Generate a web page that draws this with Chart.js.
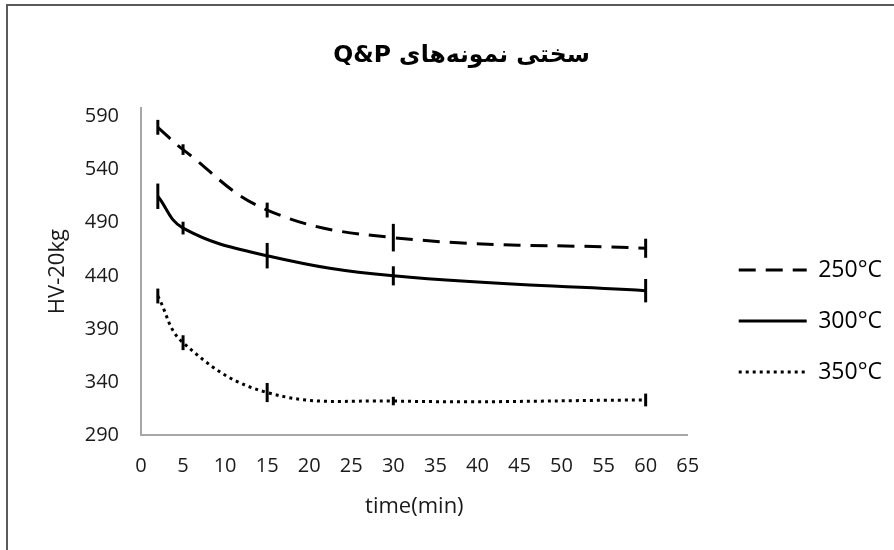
<!DOCTYPE html>
<html>
<head>
<meta charset="utf-8">
<title>Q&amp;P hardness</title>
<script src="https://cdn.jsdelivr.net/npm/chart.js@4.4.0/dist/chart.umd.min.js"></script>
<style>
    html, body { margin: 0; padding: 0; background: #fff; overflow: hidden; }
    #wrap { position: relative; width: 894px; height: 550px; }
    #frame {
        position: absolute; left: 6px; top: 4px; width: 900px; height: 560px;
        border-top: 2px solid #5a5a5a; border-left: 2px solid #5a5a5a;
        pointer-events: none;
    }
</style>
</head>
<body>
<div id="wrap">
    <canvas id="hardness" width="894" height="550"></canvas>
    <div id="frame"></div>
</div>
<script>
(function () {
    "use strict";

    // Values
    var times = [2, 5, 15, 30, 60];
    var hv250 = [580, 559, 502, 476, 466];
    var hv300 = [515, 485, 459, 440, 426];
    var hv350 = [421, 377, 330, 322, 323];
    var err250 = [7, 5, 7, 13, 9];
    var err300 = [12, 6, 12, 9, 11];
    var err350 = [7, 7, 9, 4, 6];
    var seriesNames = ["250°C", "300°C", "350°C"];

    var xTicks = [0, 5, 10, 15, 20, 25, 30, 35, 40, 45, 50, 55, 60, 65];
    var yTicks = [290, 340, 390, 440, 490, 540, 590];

    var chartTitle = "سختی نمونه‌های Q&P";
    var xTitle = "time(min)";
    var yTitle = "HV-20kg";

    var textFont = "'Open Sans', 'DejaVu Sans', sans-serif";

    function points(values) {
        return times.map(function (t, i) {
            return { x: t, y: values[i] };
        });
    }

    // Error bars: plain vertical strokes, no caps
    var errorBars = {
        id: "errorBars",
        afterDatasetsDraw: function (chart) {
            var ctx = chart.ctx;
            var xs = chart.scales.x;
            var ys = chart.scales.y;
            ctx.save();
            ctx.strokeStyle = "#000";
            ctx.lineWidth = 3;
            ctx.setLineDash([]);
            chart.data.datasets.forEach(function (ds) {
                ds.data.forEach(function (p, i) {
                    var e = ds.errors[i];
                    var px = xs.getPixelForValue(p.x);
                    ctx.beginPath();
                    ctx.moveTo(px, ys.getPixelForValue(p.y - e));
                    ctx.lineTo(px, ys.getPixelForValue(p.y + e));
                    ctx.stroke();
                });
            });
            ctx.restore();
        }
    };

    // Move legend and title a bit, Excel put them off-centre
    var nudge = {
        id: "nudge",
        afterLayout: function (chart) {
            var lg = chart.legend;
            lg.left += 23; lg.right += 23;
            lg.top += 46; lg.bottom += 46;
            var tb = chart.titleBlock;
            tb.left += 17; tb.right += 17;
        }
    };

    var ctx = document.getElementById("hardness").getContext("2d");
    var myChart = new Chart(ctx, {
        type: "line",
        data: {
            datasets: [{
                    label: seriesNames[0],
                    data: points(hv250),
                    errors: err250,
                    borderColor: "#000",
                    backgroundColor: "#000",
                    borderWidth: 3,
                    borderDash: [17, 10]
                },
                {
                    label: seriesNames[1],
                    data: points(hv300),
                    errors: err300,
                    borderColor: "#000",
                    backgroundColor: "#000",
                    borderWidth: 3
                },
                {
                    label: seriesNames[2],
                    data: points(hv350),
                    errors: err350,
                    borderColor: "#000",
                    backgroundColor: "#000",
                    borderWidth: 3,
                    borderDash: [3, 4]
                }
            ]
        },
        options: {
            responsive: false,
            animation: false,
            layout: {
                padding: { left: 20, right: 25, top: 0, bottom: 0 }
            },
            elements: {
                point: { radius: 0, hoverRadius: 0 },
                line: { tension: 0.4, fill: false }
            },
            scales: {
                x: {
                    type: "linear",
                    min: 0,
                    max: 65,
                    afterBuildTicks: function (axis) {
                        axis.ticks = xTicks.map(function (v) { return { value: v }; });
                    },
                    afterFit: function (axis) { axis.height = 115; },
                    grid: { display: false, drawTicks: false },
                    border: { display: true, color: "#a6a6a6", width: 2 },
                    ticks: {
                        padding: 19,
                        autoSkip: false,
                        maxRotation: 0,
                        color: "#1a1a1a",
                        font: { family: textFont, size: 20 }
                    },
                    title: {
                        display: true,
                        text: xTitle,
                        color: "#1a1a1a",
                        font: { family: textFont, size: 22 },
                        padding: { top: 0, bottom: 30 }
                    }
                },
                y: {
                    type: "linear",
                    min: 290,
                    max: 598,
                    afterBuildTicks: function (axis) {
                        axis.ticks = yTicks.map(function (v) { return { value: v }; });
                    },
                    afterFit: function (axis) { axis.width = 121; },
                    grid: { display: false, drawTicks: false },
                    border: { display: true, color: "#a6a6a6", width: 2 },
                    ticks: {
                        padding: 22,
                        color: "#1a1a1a",
                        font: { family: textFont, size: 20 }
                    },
                    title: {
                        display: true,
                        text: yTitle,
                        color: "#1a1a1a",
                        font: { family: textFont, size: 22 },
                        padding: { top: 25, bottom: 0 }
                    }
                }
            },
            plugins: {
                title: {
                    display: true,
                    text: "\u202B" + chartTitle + "\u202C",
                    color: "#000",
                    font: { family: "Tahoma, 'DejaVu Sans', sans-serif", size: 23.5, weight: "bold" },
                    padding: { top: 42, bottom: 38 }
                },
                legend: {
                    position: "right",
                    labels: {
                        usePointStyle: true,
                        pointStyle: "line",
                        pointStyleWidth: 68,
                        padding: 28,
                        color: "#000",
                        font: { family: textFont, size: 23 },
                        generateLabels: function (chart) {
                            var items = Chart.defaults.plugins.legend.labels.generateLabels(chart);
                            items.forEach(function (item) {
                                var ds = chart.data.datasets[item.datasetIndex];
                                item.lineDash = ds.borderDash || [];
                                item.lineWidth = ds.borderWidth;
                                item.strokeStyle = ds.borderColor;
                            });
                            return items;
                        }
                    }
                },
                tooltip: { enabled: false }
            }
        },
        plugins: [errorBars, nudge]
    });
})();
</script>
</body>
</html>
